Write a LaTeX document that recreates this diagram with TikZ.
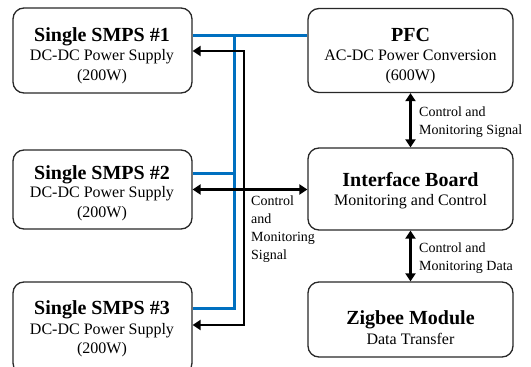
\documentclass[tikz,border=0pt]{standalone}
\usepackage{fontspec}
\setmainfont{Liberation Serif}
\usetikzlibrary{arrows.meta}
\definecolor{busblue}{RGB}{0,112,192}
\definecolor{boxline}{RGB}{40,40,40}
\tikzset{
  blk/.style={draw=boxline, line width=1.3pt, rounded corners=11pt, inner sep=0pt},
  ttl/.style={font=\fontsize{20}{22}\selectfont\bfseries, inner sep=0pt, anchor=base},
  sub/.style={font=\fontsize{16}{19}\selectfont, inner sep=0pt, anchor=base},
  bus/.style={draw=busblue, line width=3pt, line join=miter},
  ctl/.style={draw=black, line width=2.8pt, line join=miter,
    {Triangle[width=10pt,length=8pt]}-{Triangle[width=10pt,length=8pt]}},
  lbl/.style={font=\fontsize{14}{18}\selectfont, align=left, inner sep=0pt, anchor=north west}
}
\begin{document}
\begin{tikzpicture}[x=1pt,y=-1pt]
\useasboundingbox (0,0) rectangle (531,367);
\clip (0,0) rectangle (531,367);
% boxes
\node[blk, minimum width=179pt, minimum height=85pt] (s1) at (102.5,50.5) {};
\node[blk, minimum width=179pt, minimum height=79pt] (s2) at (102.5,189.5) {};
\node[blk, minimum width=179pt, minimum height=92pt] (s3) at (102.5,328) {};
\node[blk, minimum width=205pt, minimum height=84pt] (pfc) at (410.5,50.5) {};
\node[blk, minimum width=205pt, minimum height=82pt] (ib) at (410.5,189) {};
\node[blk, minimum width=205pt, minimum height=75pt] (zb) at (410.5,319.5) {};
% box texts
\node[ttl] (s1a) at (102,41) {Single SMPS \#1};
\node[sub] (s1b) at (102,60) {DC-DC Power Supply};
\node[sub] (s1c) at (102,80.5) {(200W)};
\node[ttl] (s2a) at (102,179) {Single SMPS \#2};
\node[sub] (s2b) at (102,197.5) {DC-DC Power Supply};
\node[sub] (s2c) at (102,217) {(200W)};
\node[ttl] (s3a) at (102,314.5) {Single SMPS \#3};
\node[sub] (s3b) at (102,334) {DC-DC Power Supply};
\node[sub] (s3c) at (102,353.5) {(200W)};
\node[ttl] (pa) at (410.5,41) {PFC};
\node[sub] (pb) at (410.5,60) {AC-DC Power Conversion};
\node[sub] (pc) at (410.5,80.5) {(600W)};
\node[ttl] (ia) at (410.5,186.5) {Interface Board};
\node[sub] (ib2) at (410.5,205.5) {Monitoring and Control};
\node[ttl] (za) at (410.5,324.5) {Zigbee Module};
\node[sub] (zb2) at (410.5,344) {Data Transfer};
% blue power bus
\coordinate (bt) at (234,35);
\coordinate (bm) at (234,173);
\coordinate (bb) at (234,308);
\draw[bus] (s1.east |- bt) -- (pfc.west |- bt);
\draw[bus] (bt) -- (bb) -- (s3.east |- bb);
\draw[bus] (s2.east |- bm) -- (bm);
% black control bus
\coordinate (kt) at (244,51);
\coordinate (kb) at (244,325);
\draw[ctl] (s1.east |- kt) -- (kt) -- (kb) -- (s3.east |- kb);
\draw[ctl] (s2.east) -- (s2.east -| ib.west);
\draw[ctl] (pfc.south) -- (ib.north);
\draw[ctl] (ib.south) -- (zb.north);
% labels
\node[lbl] (l1) at (251,195.5) {Control\\and\\Monitoring\\Signal};
\node[lbl] (l2) at (419,106.5) {Control and\\Monitoring Signal};
\node[lbl] (l3) at (419,242.5) {Control and\\Monitoring Data};
\end{tikzpicture}
\end{document}
